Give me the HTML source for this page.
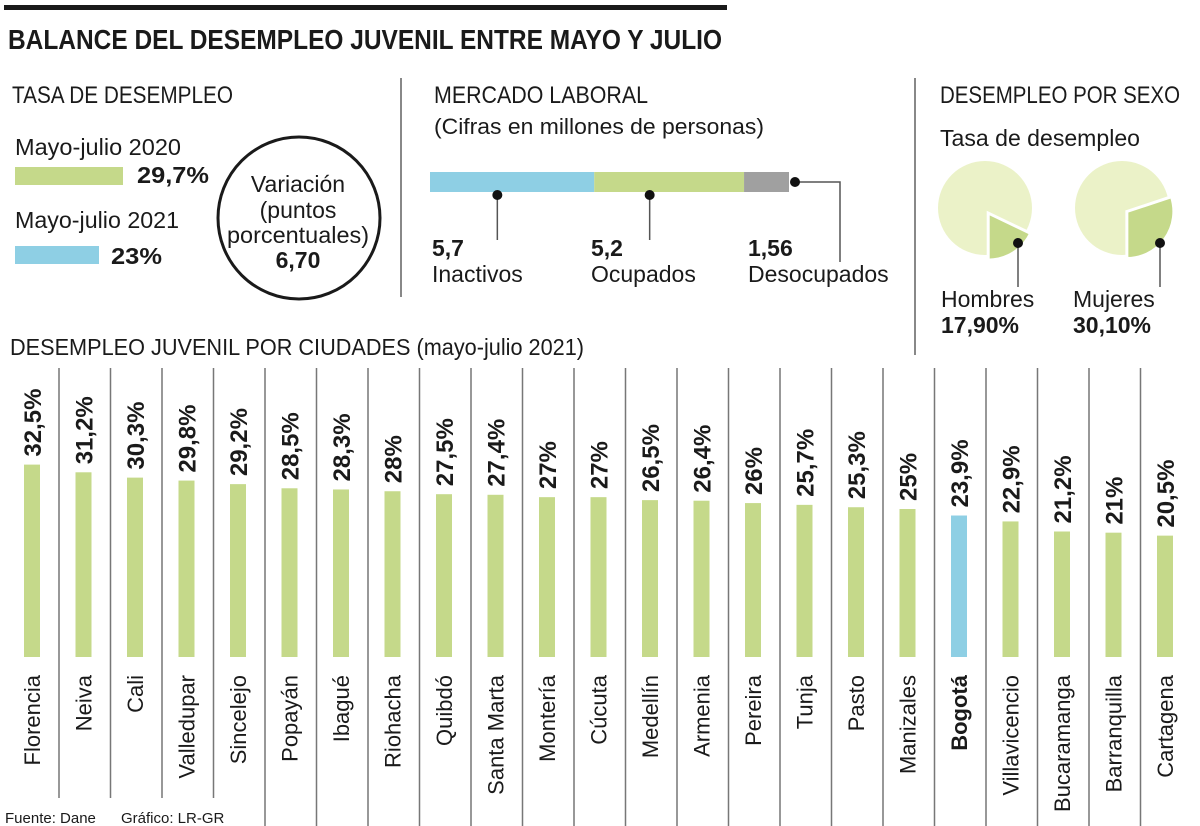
<!DOCTYPE html>
<html><head><meta charset="utf-8"><style>
body{margin:0;background:#fff}
svg{display:block;font-family:"Liberation Sans",sans-serif;fill:#1a1a1a}
.b{font-weight:bold}
</style></head><body>
<svg id="chart" width="1200" height="826" viewBox="0 0 1200 826">
<rect x="4" y="5" width="723" height="5" fill="#1a1a1a"/>
<text class="b" x="8" y="49" font-size="28" textLength="714" lengthAdjust="spacingAndGlyphs">BALANCE DEL DESEMPLEO JUVENIL ENTRE MAYO Y JULIO</text>

<g>
<text x="12" y="103" font-size="24" textLength="221" lengthAdjust="spacingAndGlyphs">TASA DE DESEMPLEO</text>
<text x="15" y="155" font-size="23" textLength="166" lengthAdjust="spacingAndGlyphs">Mayo-julio 2020</text>
<rect x="15" y="167" width="108" height="18" fill="#c5d98a"/>
<text class="b" x="137" y="183" font-size="23" textLength="72" lengthAdjust="spacingAndGlyphs">29,7%</text>
<text x="15" y="228" font-size="23" textLength="164" lengthAdjust="spacingAndGlyphs">Mayo-julio 2021</text>
<rect x="15" y="246" width="84" height="18" fill="#8ecfe4"/>
<text class="b" x="111" y="264" font-size="23" textLength="51" lengthAdjust="spacingAndGlyphs">23%</text>
<circle cx="299" cy="218" r="81" fill="none" stroke="#1a1a1a" stroke-width="3"/>
<g font-size="23" text-anchor="middle">
<text x="298" y="192">Variación</text>
<text x="298" y="218">(puntos</text>
<text x="298" y="243" textLength="142" lengthAdjust="spacingAndGlyphs">porcentuales)</text>
<text class="b" x="298" y="268">6,70</text>
</g>
</g>
<line x1="401" y1="78" x2="401" y2="297" stroke="#888" stroke-width="2"/>

<g>
<text x="434" y="103" font-size="24" textLength="214" lengthAdjust="spacingAndGlyphs">MERCADO LABORAL</text>
<text x="434" y="134" font-size="22" textLength="330" lengthAdjust="spacingAndGlyphs">(Cifras en millones de personas)</text>
<g id="mkt"></g>
</g>
<line x1="915" y1="78" x2="915" y2="355" stroke="#888" stroke-width="2"/>

<g>
<text x="940" y="103" font-size="24" textLength="240" lengthAdjust="spacingAndGlyphs">DESEMPLEO POR SEXO</text>
<text x="940" y="146" font-size="23" textLength="200" lengthAdjust="spacingAndGlyphs">Tasa de desempleo</text>
<g id="pies"></g>
</g>

<text x="10" y="355" font-size="23" textLength="574" lengthAdjust="spacingAndGlyphs">DESEMPLEO JUVENIL POR CIUDADES (mayo-julio 2021)</text>
<g id="bars"></g>
<text x="5" y="823" font-size="15">Fuente: Dane</text>
<text x="121" y="823" font-size="15">Gráfico: LR-GR</text>
</svg>
<script>
const cities=["Florencia","Neiva","Cali","Valledupar","Sincelejo","Popayán","Ibagué","Riohacha","Quibdó","Santa Marta","Montería","Cúcuta","Medellín","Armenia","Pereira","Tunja","Pasto","Manizales","Bogotá","Villavicencio","Bucaramanga","Barranquilla","Cartagena"];
const rates=[32.5,31.2,30.3,29.8,29.2,28.5,28.3,28,27.5,27.4,27,27,26.5,26.4,26,25.7,25.3,25,23.9,22.9,21.2,21,20.5];
const rateLabels=["32,5%","31,2%","30,3%","29,8%","29,2%","28,5%","28,3%","28%","27,5%","27,4%","27%","27%","26,5%","26,4%","26%","25,7%","25,3%","25%","23,9%","22,9%","21,2%","21%","20,5%"];
const highlight="Bogotá";
const marketCats=["Inactivos","Ocupados","Desocupados"];
const marketVals=[5.7,5.2,1.56];
const marketLabels=["5,7","5,2","1,56"];
const sexCats=["Hombres","Mujeres"];
const sexVals=[17.9,30.1];
const sexLabels=["17,90%","30,10%"];
const NS="http://www.w3.org/2000/svg";
function mk(tag,attrs,parent){const e=document.createElementNS(NS,tag);for(const k in attrs)e.setAttribute(k,attrs[k]);parent.appendChild(e);return e;}
// bars
const bars=document.getElementById('bars');
const x0=32,step=51.5,base=657,k=5.92;
const xs=i=>x0+i*step, ys=v=>base-v*k;
for(let i=0;i<cities.length-1;i++){
 const l=mk('line',{x1:59+i*step,y1:368,x2:59+i*step,y2:i<4?798:826,stroke:'#777','stroke-width':1.5},bars);
 
 
}
cities.forEach((c,i)=>{
 const cx=xs(i),top=ys(rates[i]);
 const r=mk('rect',{x:cx-8,y:top,width:16,height:base-top,fill:c===highlight?'#8ecfe4':'#c5d98a'},bars);
 
 
 const t=mk('text',{x:0,y:0,transform:`translate(${cx+9},${top-8}) rotate(-90)`,'font-size':24,'font-weight':'bold'},bars);
 t.textContent=rateLabels[i];
 
 
 const n=mk('text',{x:0,y:0,transform:`translate(${cx+8},675) rotate(-90)`,'font-size':22,'text-anchor':'end','font-weight':c===highlight?'bold':'normal'},bars);
 n.textContent=c;
 
 
});
// market bar
const mkt=document.getElementById('mkt');
const mx0=430,mw=359/marketVals.reduce((a,b)=>a+b,0);
const mcol=['#8ecfe4','#c5d98a','#a0a0a0'];
let acc=0;
const lblX=[432,591,748];
marketVals.forEach((v,i)=>{
 const x=mx0+acc*mw,w=v*mw;acc+=v;
 const r=mk('rect',{x:x,y:172,width:w,height:20,fill:mcol[i]},mkt);
 
 
 let dx,dy;
 if(i<2){dx=x+w*(i==0?0.41:0.37);dy=195;mk('line',{x1:dx,y1:dy,x2:dx,y2:240,stroke:'#555','stroke-width':1.5},mkt);}
 else{dx=x+w+6;dy=182;mk('polyline',{points:`${dx},182 840,182 840,262`,fill:'none',stroke:'#555','stroke-width':1.5},mkt);}
 const d=mk('circle',{cx:dx,cy:dy,r:5,fill:'#111'},mkt);
 
 
 const t1=mk('text',{x:lblX[i],y:256,'font-size':23,'font-weight':'bold'},mkt);t1.textContent=marketLabels[i];
 
 
 const t2=mk('text',{x:lblX[i],y:282,'font-size':23},mkt);t2.textContent=marketCats[i];
 
 
});
// pies
const pies=document.getElementById('pies');
const pcx=[985,1122],pcy=208,R=47;
function pt(cx,cy,r,a){const t=a*Math.PI/180;return [cx+r*Math.sin(t),cy-r*Math.cos(t)];}
sexVals.forEach((v,i)=>{
 const cx=pcx[i];
 const c=mk('circle',{cx:cx,cy:pcy,r:R,fill:'#ebf2c8'},pies);
 
 
 const ang=v*3.6,a0=180-ang,mid=(a0+180)/2;
 const off=pt(0,0,6,mid),ox=cx+off[0],oy=pcy+off[1];
 const p1=pt(ox,oy,R,a0),p2=pt(ox,oy,R,180);
 const p=mk('path',{d:`M${ox},${oy} L${p1[0]},${p1[1]} A${R},${R} 0 ${ang>180?1:0} 1 ${p2[0]},${p2[1]} Z`,fill:'#c5d98a',stroke:'#fff','stroke-width':3},pies);
 
 
 const dx=cx+33+(i?5:0);
 mk('line',{x1:dx,y1:243,x2:dx,y2:287,stroke:'#555','stroke-width':1.5},pies);
 const d=mk('circle',{cx:dx,cy:243,r:5,fill:'#111'},pies);
 
 
 const t1=mk('text',{x:cx-44+(i?-5:0),y:307,'font-size':23},pies);t1.textContent=sexCats[i];
 
 
 const t2=mk('text',{x:cx-44+(i?-5:0),y:333,'font-size':23,'font-weight':'bold'},pies);t2.textContent=sexLabels[i];
 
 
});
</script>
</body></html>
